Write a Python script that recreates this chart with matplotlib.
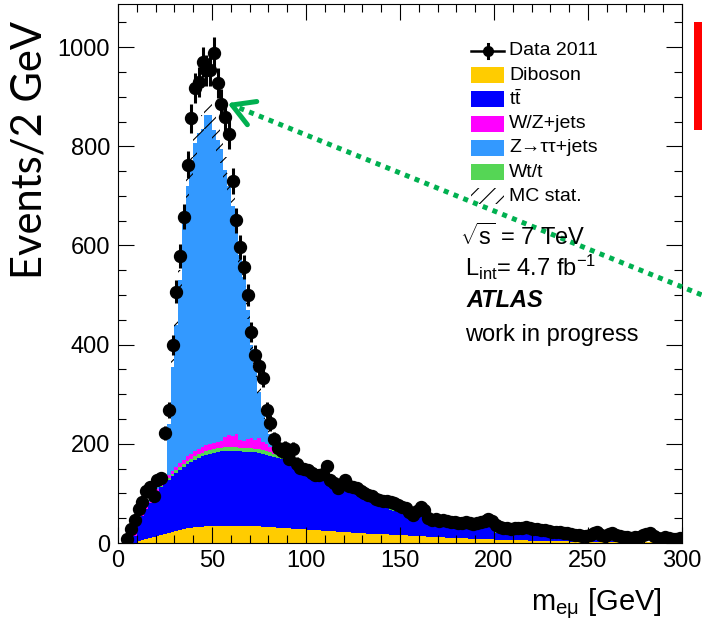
import numpy as np
import matplotlib
matplotlib.use('Agg')
import matplotlib.pyplot as plt
from matplotlib.patches import Rectangle
from matplotlib.lines import Line2D
from matplotlib.ticker import MultipleLocator

# 2 GeV bins from 0 to 300 GeV (150 bins)
edges = np.arange(0, 302, 2)

diboson = [0, 0, 0, 0, 0, 5, 7, 9, 11, 13,
           15, 17, 19, 21, 23, 25, 27, 29, 30, 31,
           32, 33, 33, 34, 34, 35, 35, 35, 35, 35,
           35, 35, 35, 35, 35, 35, 34, 34, 33, 33,
           32, 32, 31, 31, 30, 30, 29, 29, 28, 28,
           27, 27, 26, 26, 25, 25, 24, 24, 23, 23,
           22, 22, 21, 21, 20, 20, 19, 19, 19, 18,
           18, 18, 17, 17, 17, 16, 16, 15, 15, 15,
           14, 14, 13, 13, 13, 12, 12, 11, 11, 11,
           10, 10, 10, 9, 9, 9, 8, 8, 8, 8,
           7, 7, 7, 7, 6, 6, 6, 6, 6, 5,
           5, 5, 5, 5, 4, 4, 4, 4, 4, 4,
           3, 3, 3, 3, 3, 3, 3, 3, 3, 2,
           2, 2, 2, 2, 2, 2, 2, 2, 2, 2,
           2, 2, 2, 1, 1, 1, 1, 1, 1, 1]

ttbar = [0, 0, 0, 0, 15, 35, 48, 59, 69, 79,
         88, 95, 101, 107, 112, 117, 121, 125, 130, 133,
         136, 139, 142, 144, 146, 147, 149, 150, 151, 151,
         151, 151, 150, 149, 149, 149, 149, 148, 147, 145,
         144, 142, 141, 139, 137, 134, 132, 129, 127, 124,
         122, 119, 117, 114, 112, 109, 107, 104, 101, 97,
         95, 92, 90, 87, 86, 83, 80, 76, 71, 62,
         60, 58, 49, 47, 45, 44, 46, 43, 45, 46,
         46, 48, 37, 29, 23, 22, 21, 22, 21, 22,
         22, 21, 22, 24, 25, 24, 26, 27, 25, 22,
         14, 13, 13, 12, 14, 13, 12, 13, 12, 12,
         11, 12, 11, 10, 12, 10, 5, 5, 4, 4,
         5, 4, 4, 4, 3, 3, 3, 3, 2, 3,
         3, 3, 3, 2, 2, 2, 2, 2, 2, 1,
         1, 1, 1, 2, 2, 2, 2, 2, 1, 1]

wt = [0, 0, 0, 0, 0, 0, 0, 0, 0, 0,
      2, 3, 3, 4, 4, 5, 5, 5, 6, 6,
      7, 7, 7, 7, 7, 7, 7, 7, 7, 7,
      7, 7, 7, 7, 7, 7, 7, 7, 7, 7,
      7, 6, 6, 6, 5, 5, 5, 4, 4, 4,
      4, 4, 3, 3, 3, 3, 3, 3, 3, 3,
      2, 2, 2, 2, 2, 2, 2, 2, 2, 2,
      2, 2, 2, 2, 2, 2, 2, 2, 2, 2,
      1, 1, 1, 1, 1, 1, 1, 1, 1, 1,
      1, 1, 1, 1, 1, 1, 1, 1, 1, 1,
      1, 1, 1, 1, 1, 1, 1, 1, 1, 1,
      1, 1, 1, 1, 1, 1, 1, 1, 1, 1,
      0, 0, 0, 0, 0, 0, 0, 0, 0, 0,
      0, 0, 0, 0, 0, 0, 0, 0, 0, 0,
      0, 0, 0, 0, 0, 0, 0, 0, 0, 0]

wzjets = [0, 0, 0, 8, 12, 8, 5, 4, 3, 3,
          4, 5, 5, 6, 6, 7, 8, 8, 9, 10,
          10, 10, 11, 12, 12, 12, 13, 14, 20, 24,
          22, 26, 16, 14, 18, 20, 17, 22, 16, 14,
          10, 8, 7, 6, 5, 4, 4, 3, 3, 3,
          2, 2, 2, 2, 2, 2, 2, 2, 2, 2,
          1, 1, 1, 1, 1, 1, 1, 1, 1, 1,
          1, 1, 1, 1, 1, 1, 1, 1, 1, 1,
          1, 1, 1, 1, 1, 1, 1, 1, 1, 1,
          1, 1, 1, 1, 1, 1, 1, 1, 1, 1,
          0, 0, 0, 0, 0, 0, 0, 0, 0, 0,
          0, 0, 0, 0, 0, 0, 0, 0, 0, 0,
          0, 0, 0, 0, 0, 0, 0, 0, 0, 0,
          0, 0, 0, 0, 0, 0, 0, 0, 0, 0,
          0, 0, 0, 0, 0, 0, 0, 0, 0, 0]

ztautau = [0, 0, 0, 0, 2, 3, 3, 4, 4, 5,
           6, 7, 8, 102, 210, 286, 369, 493, 545, 572,
           621, 637, 642, 667, 665, 632, 608, 589, 539, 503,
           465, 411, 372, 332, 261, 189, 143, 94, 59, 41,
           27, 15, 5, 4, 3, 3, 3, 2, 2, 2,
           2, 2, 2, 2, 1, 1, 1, 1, 1, 1,
           1, 1, 1, 1, 1, 1, 1, 1, 1, 1,
           1, 1, 1, 1, 1, 1, 1, 1, 1, 1,
           0, 0, 0, 0, 0, 0, 0, 0, 0, 0,
           0, 0, 0, 0, 0, 0, 0, 0, 0, 0,
           0, 0, 0, 0, 0, 0, 0, 0, 0, 0,
           0, 0, 0, 0, 0, 0, 0, 0, 0, 0,
           0, 0, 0, 0, 0, 0, 0, 0, 0, 0,
           0, 0, 0, 0, 0, 0, 0, 0, 0, 0,
           0, 0, 0, 0, 0, 0, 0, 0, 0, 0]

# MC stat. uncertainty, only visible around the Z peak (bins 26-90 GeV)
mc_stat_first_bin = 13
mc_stat_peak = [12, 16, 18, 20, 24, 25, 26, 28, 28, 29, 30, 30, 29, 28, 28, 27,
                26, 25, 24, 22, 21, 19, 17, 15, 13, 12, 11, 10, 9, 8, 8, 8]

# data 2011, bin centres 5..299 GeV
data_x = np.arange(5, 300, 2)
data = [8, 28, 46, 68, 82, 105, 112, 95, 127, 131,
        222, 268, 399, 507, 579, 658, 763, 857, 917, 930,
        970, 953, 953, 989, 927, 886, 860, 824, 730, 651,
        597, 557, 500, 426, 379, 357, 333, 268, 242, 210,
        191, 185, 191, 170, 190, 160, 151, 150, 147, 142,
        138, 137, 140, 155, 128, 120, 110, 118, 127, 115,
        112, 110, 104, 100, 97, 94, 88, 87, 85, 84,
        83, 80, 77, 72, 70, 62, 56, 65, 73, 66,
        50, 46, 48, 44, 46, 44, 42, 43, 41, 40,
        42, 40, 39, 41, 42, 44, 48, 44, 36, 32,
        30, 31, 29, 30, 31, 30, 32, 30, 29, 28,
        27, 26, 25, 23, 22, 22, 21, 20, 19, 17,
        16, 15, 14, 16, 20, 22, 17, 15, 18, 20,
        16, 14, 13, 12, 11, 12, 13, 16, 18, 20,
        15, 10, 9, 12, 11, 9, 8, 10]

labels = ['Diboson', r'$\mathrm{t}\bar{\mathrm{t}}$', 'Wt/t', 'W/Z+jets', 'Z→ττ+jets']
colors = ['#FFCC00', '#0000FF', '#55D655', '#FF00FF', '#3399FF']
stack = [diboson, ttbar, wt, wzjets, ztautau]

plt.rcParams['font.family'] = ['Liberation Sans', 'DejaVu Sans']
plt.rcParams['mathtext.fontset'] = 'custom'
plt.rcParams['mathtext.rm'] = 'Liberation Sans'
plt.rcParams['mathtext.it'] = 'Liberation Sans:italic'
plt.rcParams['mathtext.bf'] = 'Liberation Sans:bold'
plt.rcParams['hatch.linewidth'] = 0.8

W, H = 702, 627
fig = plt.figure(figsize=(W / 100, H / 100), dpi=100)
ax = fig.add_axes([118 / W, 1 - 543 / H, 564 / W, 539 / H])

base = np.zeros(len(edges) - 1)
for vals, col in zip(stack, colors):
    top = base + np.array(vals)
    ax.stairs(top, edges, baseline=base, fill=True, color=col, lw=0)
    base = top
total = base

mc_stat = np.zeros(len(total))
mc_stat[mc_stat_first_bin:mc_stat_first_bin + len(mc_stat_peak)] = mc_stat_peak
ax.stairs(total + mc_stat, edges, baseline=total - mc_stat, fill=True,
          facecolor='none', edgecolor='black', hatch='//', lw=0, zorder=3)

data = np.array(data)
ax.errorbar(data_x, data, yerr=np.sqrt(data), fmt='o', color='black', ms=8.6,
            elinewidth=2.2, capsize=0, zorder=5)

ax.set_xlim(0, 300)
ax.set_ylim(0, 1087)
ax.xaxis.set_major_locator(MultipleLocator(50))
ax.xaxis.set_minor_locator(MultipleLocator(10))
ax.yaxis.set_major_locator(MultipleLocator(200))
ax.yaxis.set_minor_locator(MultipleLocator(50))
ax.tick_params(which='both', direction='in', top=True, right=True, width=0.8, labelsize=17)
ax.tick_params(which='major', length=11.5)
ax.tick_params(which='minor', length=5.8)
ax.tick_params(axis='y', pad=5.8)
ax.tick_params(axis='x', pad=5)
for sp in ax.spines.values():
    sp.set_linewidth(0.8)


def fx(x):
    return x / W


def fy(y):
    return 1 - y / H


# legend (drawn by hand to match the ROOT layout)
row0, pitch = 50.7, 24.3
y = row0
fig.add_artist(Line2D([fx(471), fx(504)], [fy(y), fy(y)], color='black', lw=1.8))
fig.add_artist(Line2D([fx(487.5), fx(487.5)], [fy(y - 7), fy(y + 7)], color='black', lw=2.2))
fig.add_artist(Line2D([fx(487.5)], [fy(y)], marker='o', ms=7, color='black'))
fig.text(fx(509), fy(y), 'Data 2011', fontsize=14, va='center')
leg_order = [0, 1, 3, 4, 2]
for k, idx in enumerate(leg_order):
    y = row0 + pitch * (k + 1)
    fig.add_artist(Rectangle((fx(471), fy(y + 8)), 33 / W, 16 / H,
                             transform=fig.transFigure, color=colors[idx], lw=0))
    fig.text(fx(509), fy(y), labels[idx], fontsize=14, va='center')
y = row0 + pitch * 6
fig.add_artist(Rectangle((fx(471), fy(y + 8)), 33 / W, 16 / H, transform=fig.transFigure,
                         facecolor='none', edgecolor='black', hatch='//', lw=0))
fig.text(fx(509), fy(y), 'MC stat.', fontsize=14, va='center')

fig.text(fx(460), fy(237), r'$\sqrt{\mathrm{s}}$ = 7 TeV', fontsize=17, va='center')
fig.text(fx(465), fy(267), r'L$_{\mathrm{int}}$= 4.7 fb$^{\mathrm{-1}}$', fontsize=17, va='center')
fig.text(fx(466), fy(300), 'ATLAS', fontsize=17, fontweight='bold', fontstyle='italic', va='center')
fig.text(fx(465), fy(335), 'work in progress', fontsize=17, va='center')

# axis titles
fig.text(fx(30), fy(150), 'Events/2 GeV', rotation=90, fontsize=30,
         family=['Lato', 'DejaVu Sans'], ha='center', va='center')
fig.text(fx(531), fy(610), r'm$_{\mathregular{eμ}}$ [GeV]', fontsize=21, ha='left', va='baseline')

# red marker bar at the right edge
fig.add_artist(Rectangle((fx(694), fy(130)), 8 / W, 108 / H, transform=fig.transFigure,
                         color='#FF0000', lw=0))

# green dotted arrow pointing to the peak
tip = np.array([232.0, 105.0])
ang = np.arctan2(190, 470)
tail = tip + 520 * np.array([np.cos(ang), np.sin(ang)])
start = tip + 8 * np.array([np.cos(ang), np.sin(ang)])
fig.add_artist(Line2D([fx(start[0]), fx(tail[0])], [fy(start[1]), fy(tail[1])],
                      color='#00B050', lw=3.6, linestyle=(0, (1, 1.1)), dash_capstyle='butt'))
for s in (1, -1):
    a = ang + s * np.radians(30)
    end = tip + 25 * np.array([np.cos(a), np.sin(a)])
    fig.add_artist(Line2D([fx(tip[0]), fx(end[0])], [fy(tip[1]), fy(end[1])],
                          color='#00B050', lw=3.6, solid_capstyle='round'))

fig.savefig('out.png', dpi=100)
